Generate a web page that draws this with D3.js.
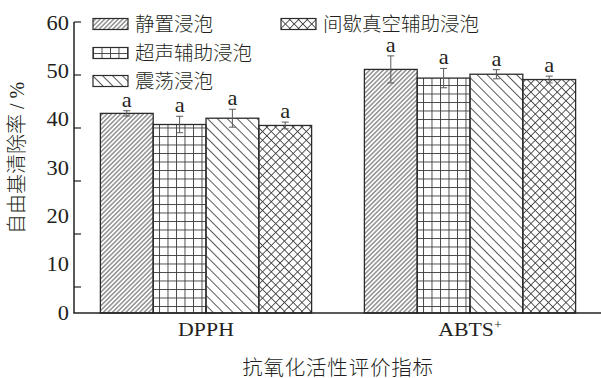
<!DOCTYPE html>
<html>
<head>
<meta charset="utf-8">
<script src="https://cdn.jsdelivr.net/npm/d3@7"></script>
<style>
  body { margin: 0; background: #fff; }
  svg { display: block; }
</style>
</head>
<body>
<script>
// Antioxidant activity (radical scavenging rate, %) by soaking method
const groups = ["DPPH", "ABTS+"];
const methods = ["静置浸泡", "超声辅助浸泡", "震荡浸泡", "间歇真空辅助浸泡"];
const dpphValues = [41.3, 39.0, 40.3, 38.8];
const abtsValues = [50.4, 48.6, 49.4, 48.3];
const dpphErrors = [0.55, 1.7, 1.85, 0.7];
const abtsErrors = [2.8, 2.0, 0.95, 0.7];
const dpphLetters = ["a", "a", "a", "a"];
const abtsLetters = ["a", "a", "a", "a"];
const yTicks = [0, 10, 20, 30, 40, 50, 60];
const yTitle = "自由基清除率 / %";
const xTitle = "抗氧化活性评价指标";

const W = 601, H = 378;
const latin = "'Liberation Serif', 'Times New Roman', serif";
const cjk = "'Liberation Serif', 'Noto Sans CJK SC', sans-serif";
const ink = "#231f20";
const stretch = 1.12; // horizontal widening of the Latin lettering

const svg = d3.select("body").append("svg").attr("width", W).attr("height", H);

const rows = groups.map((g, i) => ({
  group: g,
  values: methods.map((m, j) => ({
    method: m, idx: j,
    value: i === 0 ? dpphValues[j] : abtsValues[j],
    err: i === 0 ? dpphErrors[j] : abtsErrors[j],
    letter: i === 0 ? dpphLetters[j] : abtsLetters[j]
  }))
}));

// Scales
const y = d3.scaleLinear().domain([0, 60]).range([313, 23]);
// tick marks follow their own evenly spaced grid along the axis
const yMark = d3.scaleLinear().domain([0, 60]).range([340, 22]);
const x0 = d3.scaleBand().domain(groups).range([74, 602]).padding(0);
const x1 = d3.scaleBand().domain(methods).range([0, x0.bandwidth()])
  .paddingInner(0).paddingOuter(0.5);

// Hatch patterns
const defs = svg.append("defs");
const hatchColor = "#3c3c3c";
function linePattern(id, spacing, angle) {
  const p = defs.append("pattern").attr("id", id)
    .attr("patternUnits", "userSpaceOnUse")
    .attr("width", spacing).attr("height", spacing)
    .attr("patternTransform", `rotate(${angle})`);
  p.append("line").attr("x1", 0).attr("y1", spacing / 2)
    .attr("x2", spacing).attr("y2", spacing / 2)
    .attr("stroke", hatchColor).attr("stroke-width", 0.85);
  return p;
}
linePattern("p0", 3.2, -45);
linePattern("p2", 7, 45);
{
  const s = 6.2;
  const p = defs.append("pattern").attr("id", "p3")
    .attr("patternUnits", "userSpaceOnUse").attr("width", s).attr("height", s)
    .attr("patternTransform", "rotate(45)");
  p.append("line").attr("x1", 0).attr("y1", s / 2).attr("x2", s).attr("y2", s / 2)
    .attr("stroke", hatchColor).attr("stroke-width", 0.85);
  p.append("line").attr("x1", s / 2).attr("y1", 0).attr("x2", s / 2).attr("y2", s)
    .attr("stroke", hatchColor).attr("stroke-width", 0.85);
}
{
  const s = 8.5;
  const p = defs.append("pattern").attr("id", "p1")
    .attr("patternUnits", "userSpaceOnUse").attr("width", s).attr("height", s);
  p.append("line").attr("x1", 0).attr("y1", 0.5).attr("x2", s).attr("y2", 0.5)
    .attr("stroke", hatchColor).attr("stroke-width", 0.9);
  p.append("line").attr("x1", 0.5).attr("y1", 0).attr("x2", 0.5).attr("y2", s)
    .attr("stroke", hatchColor).attr("stroke-width", 0.9);
}
const fillOf = i => `url(#p${i})`;

// Bars
const g = svg.append("g");
const grp = g.selectAll("g.grp").data(rows).join("g")
  .attr("class", "grp")
  .attr("transform", d => `translate(${x0(d.group)},0)`);

grp.selectAll("rect").data(d => d.values).join("rect")
  .attr("x", d => x1(d.method))
  .attr("y", d => y(d.value))
  .attr("width", x1.bandwidth())
  .attr("height", d => y(0) - y(d.value))
  .attr("fill", d => fillOf(d.idx))
  .attr("stroke", "#2b2b2b").attr("stroke-width", 1.3);

// Error bars
const eb = grp.selectAll("g.err").data(d => d.values).join("g").attr("class", "err")
  .attr("stroke", "#5a5a5a").attr("stroke-width", 1);
const cx = d => x1(d.method) + x1.bandwidth() / 2;
eb.append("line").attr("x1", cx).attr("x2", cx)
  .attr("y1", d => y(d.value + d.err)).attr("y2", d => y(d.value - d.err));
eb.append("line").attr("x1", d => cx(d) - 3.5).attr("x2", d => cx(d) + 3.5)
  .attr("y1", d => y(d.value + d.err)).attr("y2", d => y(d.value + d.err));
eb.append("line").attr("x1", d => cx(d) - 3.5).attr("x2", d => cx(d) + 3.5)
  .attr("y1", d => y(d.value - d.err)).attr("y2", d => y(d.value - d.err));

// Significance letters
grp.selectAll("text.sig").data(d => d.values).join("text").attr("class", "sig")
  .attr("transform", d => `translate(${cx(d)},${y(d.value + d.err) - 4}) scale(${stretch},1)`)
  .attr("text-anchor", "middle")
  .attr("font-family", latin).attr("font-size", 20).attr("fill", ink)
  .text(d => d.letter);

// Axes
const axisColor = "#222";
svg.append("line").attr("x1", 74).attr("x2", 74)
  .attr("y1", yMark(60)).attr("y2", y(0))
  .attr("stroke", axisColor).attr("stroke-width", 1.5);
svg.append("line").attr("x1", 73.25).attr("x2", W)
  .attr("y1", y(0)).attr("y2", y(0))
  .attr("stroke", axisColor).attr("stroke-width", 1.5);

svg.selectAll("line.ytick").data(yTicks.filter(v => v > 0)).join("line")
  .attr("class", "ytick")
  .attr("x1", 74).attr("x2", 81)
  .attr("y1", d => yMark(d)).attr("y2", d => yMark(d))
  .attr("stroke", axisColor).attr("stroke-width", 1.2);

svg.selectAll("line.xtick").data(groups).join("line")
  .attr("class", "xtick")
  .attr("x1", d => x0(d) + x0.bandwidth() / 2).attr("x2", d => x0(d) + x0.bandwidth() / 2)
  .attr("y1", y(0)).attr("y2", y(0) - 6)
  .attr("stroke", axisColor).attr("stroke-width", 1);

svg.selectAll("text.ylab").data(yTicks).join("text")
  .attr("class", "ylab")
  .attr("transform", d => `translate(69,${y(d)}) scale(${stretch},1)`)
  .attr("text-anchor", "end").attr("dominant-baseline", "central")
  .attr("font-family", latin).attr("font-size", 20).attr("fill", ink)
  .text(d => d);

// Category labels (ABTS with superscript +)
const xl = svg.selectAll("text.xlab").data(groups).join("text")
  .attr("class", "xlab")
  .attr("transform", d => `translate(${x0(d) + x0.bandwidth() / 2},336) scale(${stretch},1)`)
  .attr("text-anchor", "middle")
  .attr("font-family", latin).attr("font-size", 19.5).attr("fill", ink);
xl.each(function (d) {
  const t = d3.select(this);
  if (d.endsWith("+")) {
    t.append("tspan").text(d.slice(0, -1));
    t.append("tspan").attr("dy", -7).attr("font-size", 12.5).text("+");
  } else {
    t.text(d);
  }
});

// Axis titles
svg.append("text")
  .attr("transform", `translate(338,375)`)
  .attr("text-anchor", "middle")
  .attr("font-family", cjk).attr("font-weight", 300).attr("font-size", 20.5)
  .attr("letter-spacing", 0.8).attr("fill", ink)
  .text(xTitle);

svg.append("text")
  .attr("transform", `translate(24,158) rotate(-90)`)
  .attr("text-anchor", "middle")
  .attr("font-family", cjk).attr("font-weight", 300).attr("font-size", 20)
  .attr("fill", ink)
  .text(yTitle);

// Legend
const legendPos = [
  { x: 93, y: 24 }, { x: 93, y: 53 }, { x: 93, y: 81 }, { x: 281, y: 24 }
];
const lg = svg.selectAll("g.leg").data(methods).join("g").attr("class", "leg")
  .attr("transform", (d, i) => `translate(${legendPos[i].x},${legendPos[i].y})`);
lg.append("rect").attr("x", 0).attr("y", -5.5).attr("width", 35).attr("height", 11)
  .attr("fill", (d, i) => fillOf(i))
  .attr("stroke", "#2b2b2b").attr("stroke-width", 1.2);
lg.append("text").attr("x", 42).attr("y", 0)
  .attr("dominant-baseline", "central")
  .attr("font-family", cjk).attr("font-weight", 300).attr("font-size", 19.5)
  .attr("fill", ink)
  .text(d => d);
</script>
</body>
</html>
